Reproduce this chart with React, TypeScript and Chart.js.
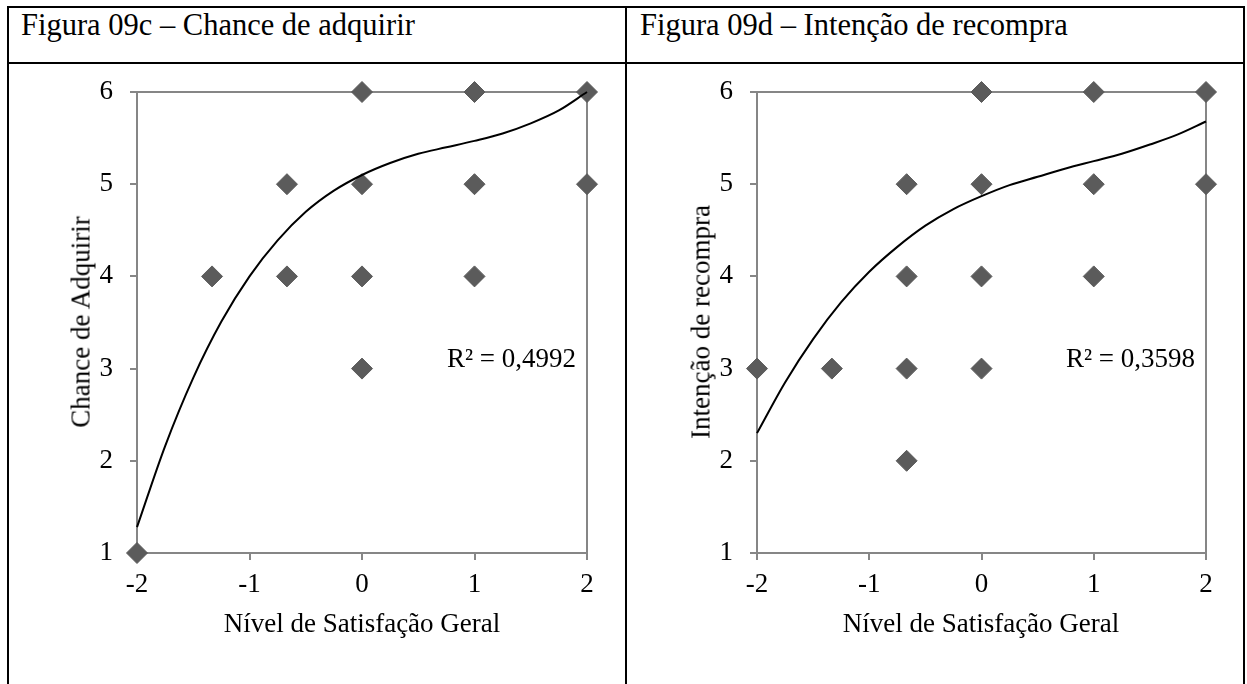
import React, { useEffect, useRef } from "react";
import { Chart, registerables } from "chart.js";

Chart.register(...registerables);

// ---- Data ----
const xTickValues = [-2, -1, 0, 1, 2];
const xTickLabels = ["-2", "-1", "0", "1", "2"];
const yTickValues = [1, 2, 3, 4, 5, 6];
const yTickLabels = ["1", "2", "3", "4", "5", "6"];

const chanceX = [-2, -1.333, -0.667, -0.667, 0, 0, 0, 0, 1, 1, 1, 2, 2];
const chanceY = [1, 4, 5, 4, 6, 5, 4, 3, 6, 5, 4, 6, 5];

const recompraX = [-2, -1.333, -0.667, -0.667, -0.667, -0.667, 0, 0, 0, 0, 1, 1, 1, 2, 2];
const recompraY = [3, 3, 5, 4, 3, 2, 6, 5, 4, 3, 6, 5, 4, 6, 5];

const trendX = [-2, -1.75, -1.5, -1.25, -1, -0.75, -0.5, -0.25, 0, 0.25, 0.5, 0.75, 1, 1.25, 1.5, 1.75, 2];
const chanceTrendY = [1.28, 2.16, 2.9, 3.51, 4.0, 4.39, 4.7, 4.93, 5.1, 5.23, 5.33, 5.4, 5.47, 5.55, 5.66, 5.8, 6.0];
const recompraTrendY = [2.3, 2.85, 3.32, 3.72, 4.05, 4.32, 4.55, 4.73, 4.87, 4.99, 5.08, 5.17, 5.25, 5.33, 5.43, 5.54, 5.68];

const FONT = '"Liberation Serif", "Times New Roman", serif';
const AXIS_GRAY = "#868686";
const MARKER = "#5b5b5b";
const CHART_FONT = 27;
const TITLE_FONT = 30.5;

Chart.defaults.font.family = FONT;

const frameLines = {
  id: "frameLines",
  beforeDatasetsDraw(chart: any) {
    const { ctx, chartArea } = chart;
    ctx.save();
    ctx.strokeStyle = AXIS_GRAY;
    ctx.lineWidth = 2;
    ctx.beginPath();
    ctx.moveTo(chartArea.left, chartArea.top);
    ctx.lineTo(chartArea.right, chartArea.top);
    ctx.lineTo(chartArea.right, chartArea.bottom);
    ctx.stroke();
    ctx.restore();
  },
};

function ScatterPanel(props: {
  xs: number[];
  ys: number[];
  trend: number[];
  width: number;
  height: number;
  leftW: number;
  rightPad: number;
}) {
  const ref = useRef<HTMLCanvasElement | null>(null);
  useEffect(() => {
    if (!ref.current) return;
    const pts = props.xs.map((x, i) => ({ x, y: props.ys[i] }));
    const trendPts = trendX.map((x, i) => ({ x, y: props.trend[i] }));
    const chart = new Chart(ref.current, {
      type: "scatter",
      data: {
        datasets: [
          {
            data: trendPts,
            showLine: true,
            borderColor: "#000000",
            borderWidth: 2,
            pointRadius: 0,
            cubicInterpolationMode: "monotone",
            clip: false,
          } as any,
          {
            data: pts,
            pointStyle: "rectRot",
            pointRadius: 10.5,
            backgroundColor: MARKER,
            borderColor: MARKER,
            borderWidth: 1,
            showLine: false,
            clip: false,
          } as any,
        ],
      },
      options: {
        animation: false,
        responsive: false,
        maintainAspectRatio: false,
        layout: { padding: { left: 0, right: props.rightPad, top: 28, bottom: 0 } },
        plugins: { legend: { display: false }, tooltip: { enabled: false } },
        scales: {
          x: {
            type: "linear",
            min: -2,
            max: 2,
            afterBuildTicks: (s: any) => {
              s.ticks = xTickValues.map((v) => ({ value: v }));
            },
            ticks: {
              color: "#000",
              font: { size: CHART_FONT, family: FONT },
              padding: 9,
              callback: (v: any) => {
                const i = xTickValues.indexOf(Number(v));
                return i >= 0 ? xTickLabels[i] : "";
              },
            },
            grid: { drawOnChartArea: false, drawTicks: true, tickLength: 7, color: AXIS_GRAY, lineWidth: 2 },
            border: { display: true, color: AXIS_GRAY, width: 2 },
            afterFit: (s: any) => {
              s.height = props.height - 489;
              s.paddingLeft = 0;
              s.paddingRight = 0;
            },
          },
          y: {
            type: "linear",
            min: 1,
            max: 6,
            afterBuildTicks: (s: any) => {
              s.ticks = yTickValues.map((v) => ({ value: v }));
            },
            ticks: {
              color: "#000",
              font: { size: CHART_FONT, family: FONT },
              padding: 17,
              callback: (v: any) => {
                const i = yTickValues.indexOf(Number(v));
                return i >= 0 ? yTickLabels[i] : "";
              },
            },
            grid: { drawOnChartArea: false, drawTicks: true, tickLength: 7, color: AXIS_GRAY, lineWidth: 2 },
            border: { display: true, color: AXIS_GRAY, width: 2 },
            afterFit: (s: any) => {
              s.width = props.leftW;
              s.paddingTop = 0;
              s.paddingBottom = 0;
            },
          },
        },
      } as any,
      plugins: [frameLines],
    });
    return () => chart.destroy();
  }, []);
  return <canvas ref={ref} width={props.width} height={props.height} style={{ display: "block" }} />;
}

const line = (s: React.CSSProperties): React.CSSProperties => ({ position: "absolute", background: "#000", ...s });

const textBase: React.CSSProperties = {
  position: "absolute",
  fontFamily: FONT,
  color: "#000",
  whiteSpace: "nowrap",
  lineHeight: "normal",
};

export default function App() {
  return (
    <div style={{ position: "absolute", left: 0, top: 0, width: 1247, height: 684, background: "#fff", overflow: "hidden" }}>
      {/* table lines */}
      <div style={line({ left: 7, top: 6, width: 1238, height: 2 })} />
      <div style={line({ left: 7, top: 62, width: 1238, height: 2 })} />
      <div style={line({ left: 7, top: 6, width: 2, height: 678 })} />
      <div style={line({ left: 625, top: 6, width: 2, height: 678 })} />
      <div style={line({ left: 1243, top: 6, width: 2, height: 678 })} />

      <div style={{ ...textBase, left: 21, top: 8, fontSize: TITLE_FONT }}>Figura 09c – Chance de adquirir</div>
      <div style={{ ...textBase, left: 640, top: 8, fontSize: TITLE_FONT }}>Figura 09d – Intenção de recompra</div>

      <div style={{ position: "absolute", left: 10, top: 64 }}>
        <ScatterPanel xs={chanceX} ys={chanceY} trend={chanceTrendY} width={614} height={620} leftW={127} rightPad={37} />
      </div>
      <div style={{ position: "absolute", left: 627, top: 64 }}>
        <ScatterPanel xs={recompraX} ys={recompraY} trend={recompraTrendY} width={616} height={620} leftW={130} rightPad={37} />
      </div>

      {/* axis titles */}
      <div style={{ ...textBase, left: 81, top: 322, fontSize: CHART_FONT, transform: "translate(-50%,-50%) rotate(-90deg)" }}>Chance de Adquirir</div>
      <div style={{ ...textBase, left: 701, top: 322, fontSize: CHART_FONT, transform: "translate(-50%,-50%) rotate(-90deg)" }}>Intenção de recompra</div>
      <div style={{ ...textBase, left: 362, top: 608, fontSize: CHART_FONT, transform: "translateX(-50%)" }}>Nível de Satisfação Geral</div>
      <div style={{ ...textBase, left: 981, top: 608, fontSize: CHART_FONT, transform: "translateX(-50%)" }}>Nível de Satisfação Geral</div>

      {/* R² labels */}
      <div style={{ ...textBase, right: 1247 - 576, top: 343, fontSize: CHART_FONT }}>R² = 0,4992</div>
      <div style={{ ...textBase, right: 1247 - 1195, top: 343, fontSize: CHART_FONT }}>R² = 0,3598</div>
    </div>
  );
}
